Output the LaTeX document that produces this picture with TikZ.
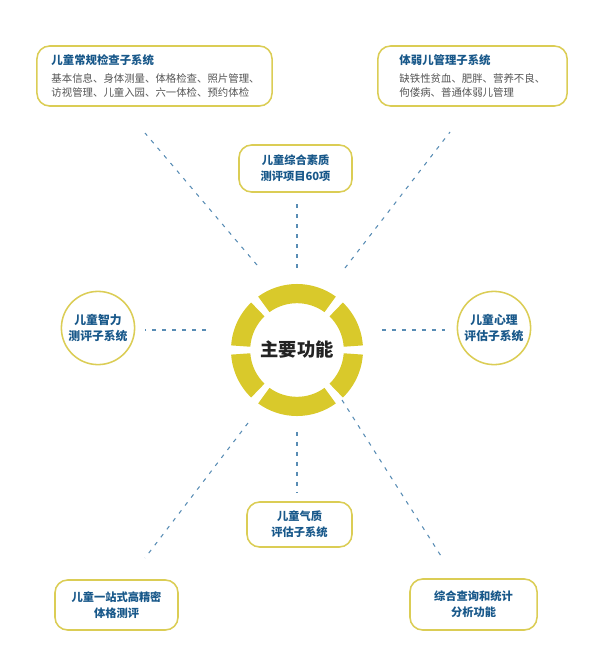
\documentclass[tikz,border=0pt]{standalone}
\usepackage{fontspec}
\setmainfont{Noto Sans CJK SC}
\usepackage{tikz}
\usetikzlibrary{calc}

\definecolor{ringyellow}{RGB}{217,201,43}
\definecolor{frameyellow}{RGB}{219,205,85}
\definecolor{titleblue}{RGB}{24,88,138}
\definecolor{notegray}{RGB}{85,85,85}
\definecolor{linkblue}{RGB}{88,140,180}
\definecolor{coretext}{RGB}{35,35,35}

\newcommand{\notefont}{\color{notegray}\mdseries\fontsize{7.4}{9.4}\selectfont}

\begin{document}
\begin{tikzpicture}[x=0.025cm, y=-0.025cm, every node/.style={font=\fontsize{8}{11.4}\selectfont\bfseries, text=titleblue}]

    % Styles for the boxes, circles and links
    \tikzset{
        modulebox/.style={draw=frameyellow, line width=1.1pt, rounded corners=9pt, fill=white, align=center, inner sep=0pt},
        detailbox/.style={modulebox, align=left, inner ysep=0pt},
        modulecircle/.style={circle, draw=frameyellow, line width=1.1pt, fill=white, minimum size=1.83cm, align=center, inner sep=0pt, font=\fontsize{8.4}{11.6}\selectfont\bfseries},
        link/.style={draw=linkblue, line width=0.75pt, dash pattern=on 2.8pt off 4.3pt},
        ringpart/.style={fill=ringyellow}
    }

    \useasboundingbox (0,0) rectangle (600,664);

    % Centre of the figure
    \node[font=\fontsize{13}{15}\selectfont\bfseries, text=coretext] (core) at (297,350) {主要功能};
    \foreach \a/\b in {4/46, 54/126, 134/176, 184/226, 234/306, 314/356} {
        \fill[ringpart] ($(core.center)+(\a:1.65cm)$) arc[start angle=\a, end angle=\b, radius=1.65cm]
            -- ($(core.center)+(\b:1.17cm)$) arc[start angle=\b, end angle=\a, radius=1.17cm] -- cycle;
    }

    % Detailed subsystems at the top
    \node[detailbox, minimum width=5.875cm, minimum height=1.5cm, text width=5.15cm, inner xsep=0.36cm] (routine) at (154.5,76) {
        \fontsize{8.1}{11}\selectfont 儿童常规检查子系统\\[2pt]
        {\notefont 基本信息、身体测量、体格检查、照片管理、}\\[-1pt]
        {\notefont 访视管理、儿童入园、六一体检、预约体检}
    };
    \node[detailbox, minimum width=4.725cm, minimum height=1.5cm, text width=3.65cm, inner xsep=0.54cm] (weak) at (472.5,76) {
        \fontsize{8.1}{11}\selectfont 体弱儿管理子系统\\[2pt]
        {\notefont 缺铁性贫血、肥胖、营养不良、}\\[-1pt]
        {\notefont 佝偻病、普通体弱儿管理}
    };

    % Other subsystems
    \node[modulebox, minimum width=2.825cm, minimum height=1.175cm] (quality) at (295.5,168.5) {儿童综合素质\\测评项目60项};
    \node[modulecircle] (intel) at (98,328) {儿童智力\\测评子系统};
    \node[modulecircle] (psych) at (494,328) {儿童心理\\评估子系统};
    \node[modulebox, minimum width=2.625cm, minimum height=1.125cm] (temper) at (299.5,524.5) {儿童气质\\评估子系统};
    \node[modulebox, minimum width=3.075cm, minimum height=1.25cm] (physique) at (116.5,605) {儿童一站式高精密\\体格测评};
    \node[modulebox, minimum width=3.175cm, minimum height=1.275cm] (query) at (473.5,604.5) {综合查询和统计\\分析功能};

    % End points of the dashed links
    \coordinate (routine-in) at (257,265);
    \coordinate (routine-out) at (145,133);
    \coordinate (weak-in) at (345,268);
    \coordinate (weak-out) at (450,132);
    \coordinate (quality-in) at (297,268);
    \coordinate (quality-out) at (297,200);
    \coordinate (intel-in) at (206,330);
    \coordinate (intel-out) at (145,330);
    \coordinate (psych-in) at (382,330);
    \coordinate (psych-out) at (445,330);
    \coordinate (temper-in) at (297,432);
    \coordinate (temper-out) at (297,492);
    \coordinate (physique-in) at (248,423);
    \coordinate (physique-out) at (145,558);
    \coordinate (query-in) at (342,400);
    \coordinate (query-out) at (441,556);

    % Dashed links
    \foreach \n in {routine, weak, quality, intel, psych, temper, physique, query} {
        \draw[link] (\n-in) -- (\n-out);
    }

\end{tikzpicture}
\end{document}
